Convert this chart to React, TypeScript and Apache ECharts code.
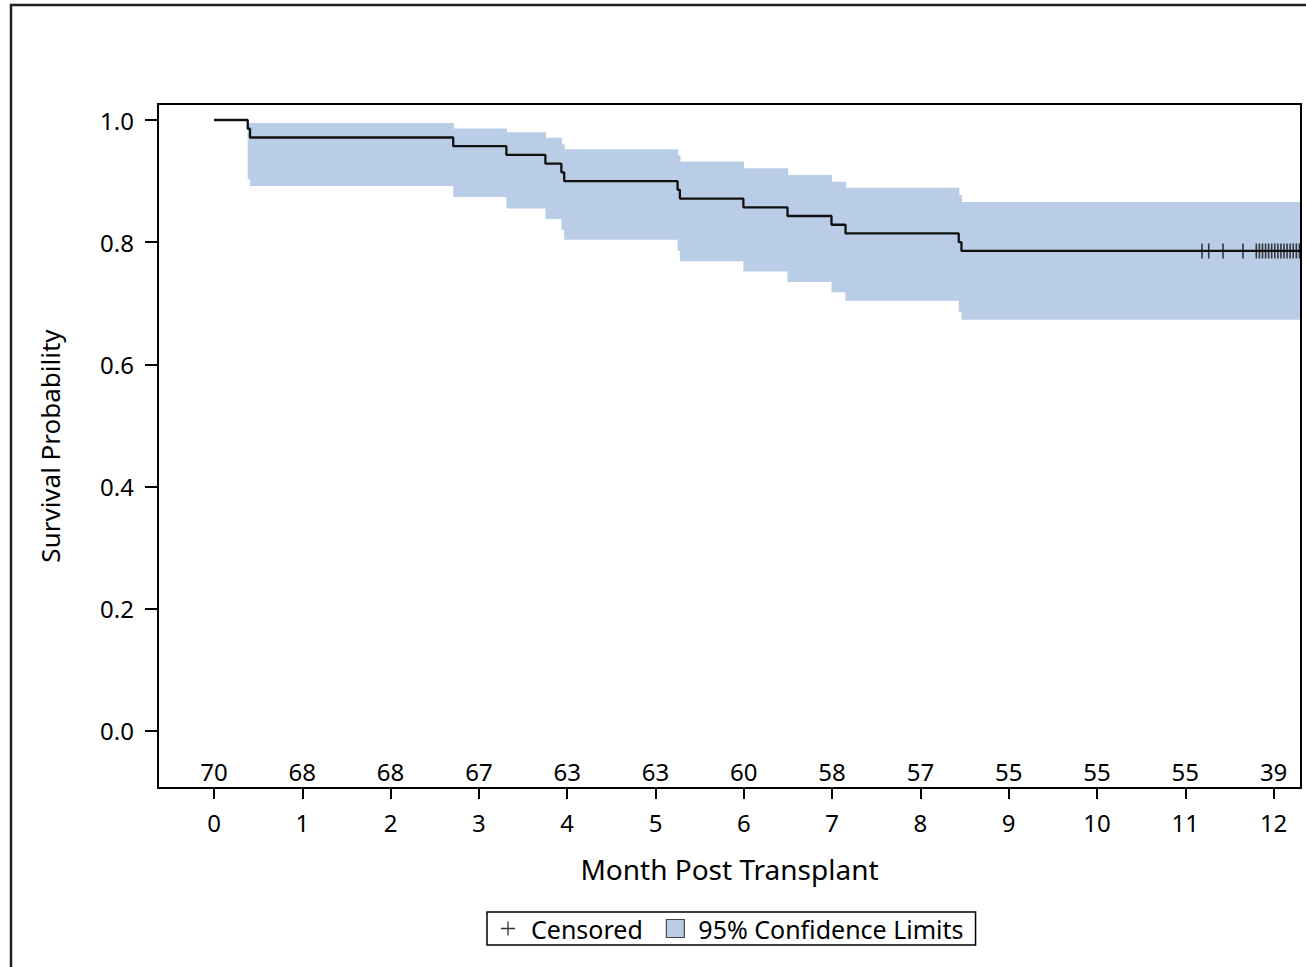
import React, { useEffect, useRef } from "react";
import * as echarts from "echarts";

// ---- Data ----
const monthTicks = [0, 1, 2, 3, 4, 5, 6, 7, 8, 9, 10, 11, 12];
const atRisk = [70, 68, 68, 67, 63, 63, 60, 58, 57, 55, 55, 55, 39];
const yTicks = [0, 0.2, 0.4, 0.6, 0.8, 1.0];

// Kaplan-Meier step curve (event times in months, survival after the event)
const eventTimes = [0, 0.382, 0.408, 2.709, 3.311, 3.753, 3.934, 3.966, 5.25, 5.276, 5.995, 6.495, 6.993, 7.152, 8.434, 8.465];
const survival = [1, 0.9857, 0.9714, 0.9571, 0.9429, 0.9286, 0.9143, 0.9, 0.8857, 0.8714, 0.8571, 0.8429, 0.8286, 0.8143, 0.8, 0.7857];
const curveEnd = 12.31;

// 95% confidence band (one interval per event from the first event onward)
const bandLower = [0.903, 0.892, 0.874, 0.855, 0.838, 0.82, 0.804, 0.786, 0.769, 0.752, 0.735, 0.718, 0.704, 0.686, 0.673];
const bandUpper = [0.995, 0.995, 0.986, 0.98, 0.971, 0.96, 0.952, 0.942, 0.932, 0.921, 0.91, 0.899, 0.889, 0.877, 0.866];

// Censored observation times
const censoredTimes = [11.189, 11.265, 11.427, 11.653, 11.804, 11.839, 11.874, 11.909, 11.943, 11.978, 12.013, 12.048, 12.083, 12.117, 12.152, 12.187, 12.222, 12.257, 12.292];

// ---- Layout / style ----
const FONT = "Noto Sans";
const BAND_COLOR = "#B9CDE6";
const GRID = { left: 158, top: 104, width: 1143, height: 684 };
const LEGEND_PLUS =
  "path://M0,0 M18,18 M8.35,2 L9.65,2 L9.65,8.35 L16,8.35 L16,9.65 L9.65,9.65 L9.65,16 L8.35,16 L8.35,9.65 L2,9.65 L2,8.35 L8.35,8.35 Z";

export default function App() {
  const ref = useRef<HTMLDivElement>(null);

  useEffect(() => {
    if (!ref.current) return;
    const chart = echarts.init(ref.current, undefined, { renderer: "svg" });

    const curveData: number[][] = eventTimes.map((t, i) => [t, survival[i]]);
    curveData.push([curveEnd, survival[survival.length - 1]]);

    const bandData: number[][] = bandLower.map((lo, i) => {
      const start = eventTimes[i + 1];
      const end = i + 2 < eventTimes.length ? eventTimes[i + 2] : curveEnd;
      return [start, end, lo, bandUpper[i]];
    });

    const lastS = survival[survival.length - 1];
    const censoredData = censoredTimes.map((t) => [t, lastS]);
    const atRiskData = monthTicks.map((m, i) => ({ value: [m, -0.067], n: atRisk[i] }));

    chart.setOption({
      animation: false,
      backgroundColor: "#fff",
      textStyle: { fontFamily: FONT },
      grid: { left: GRID.left, top: GRID.top, width: GRID.width, height: GRID.height, show: false },
      xAxis: {
        type: "value",
        min: -0.634,
        max: 12.31,
        name: "Month Post Transplant",
        nameLocation: "middle",
        nameGap: 67,
        nameTextStyle: { fontSize: 28, color: "#000", fontFamily: FONT },
        axisLine: { show: false, onZero: false },
        axisTick: { show: true, length: 11, lineStyle: { color: "#000", width: 2 }, customValues: monthTicks },
        axisLabel: { fontSize: 24, color: "#000", margin: 22, fontFamily: FONT, customValues: monthTicks },
        splitLine: { show: false },
      },
      yAxis: {
        type: "value",
        min: -0.0933,
        max: 1.0262,
        name: "Survival Probability",
        nameLocation: "middle",
        nameGap: 95,
        nameRotate: 90,
        nameTextStyle: { fontSize: 26, color: "#000", fontFamily: FONT },
        axisLine: { show: false, onZero: false },
        axisTick: { show: true, length: 13, lineStyle: { color: "#000", width: 2 }, customValues: yTicks },
        axisLabel: {
          fontSize: 24,
          color: "#000",
          margin: 24,
          fontFamily: FONT,
          customValues: yTicks,
          formatter: (v: number) => v.toFixed(1),
        },
        splitLine: { show: false },
      },
      legend: {
        top: 912,
        left: 487,
        orient: "horizontal",
        selectedMode: false,
        borderColor: "#000",
        borderWidth: 1.5,
        padding: [4, 12, 4, 12],
        itemGap: 23,
        itemWidth: 18,
        itemHeight: 18,
        textStyle: { fontSize: 25, color: "#000", fontFamily: FONT, padding: [0, 0, 0, 9] },
        data: [
          { name: "Censored", icon: LEGEND_PLUS, itemStyle: { color: "#000" } },
          {
            name: "95% Confidence Limits",
            icon: "rect",
            itemStyle: { color: BAND_COLOR, borderColor: "#444", borderWidth: 1.2 },
          },
        ],
      },
      series: [
        {
          name: "95% Confidence Limits",
          type: "custom",
          z: 1,
          itemStyle: { color: BAND_COLOR },
          encode: { x: [0, 1], y: [2, 3] },
          data: bandData,
          renderItem: (params: any, api: any) => {
            const p0 = api.coord([api.value(0), api.value(3)]);
            const p1 = api.coord([api.value(1), api.value(2)]);
            return {
              type: "rect",
              shape: { x: p0[0], y: p0[1], width: p1[0] - p0[0] + 0.6, height: p1[1] - p0[1] },
              style: { fill: BAND_COLOR },
            };
          },
        },
        {
          name: "Survival",
          type: "line",
          step: "end",
          z: 3,
          symbol: "none",
          lineStyle: { color: "#111", width: 2.3 },
          data: curveData,
        },
        {
          name: "Censored",
          type: "scatter",
          z: 4,
          symbol: "rect",
          symbolSize: [1.6, 15],
          itemStyle: { color: "#111" },
          data: censoredData,
        },
        {
          name: "At risk",
          type: "scatter",
          z: 4,
          symbolSize: 0,
          silent: true,
          itemStyle: { opacity: 1 },
          data: atRiskData,
          label: {
            show: true,
            position: "inside",
            fontSize: 24,
            color: "#000",
            opacity: 1,
            fontFamily: FONT,
            formatter: (p: any) => String(p.data.n),
          },
        },
      ],
      graphic: [
        {
          type: "rect",
          z: 100,
          silent: true,
          shape: { x: GRID.left, y: GRID.top, width: GRID.width, height: GRID.height },
          style: { fill: "none", stroke: "#000", lineWidth: 2 },
        },
        {
          type: "rect",
          z: 100,
          silent: true,
          shape: { x: 11, y: 5, width: 1400, height: 1100 },
          style: { fill: "none", stroke: "#222", lineWidth: 2.5 },
        },
      ],
    });

    return () => chart.dispose();
  }, []);

  return (
    <div
      ref={ref}
      style={{ position: "absolute", left: 0, top: 0, width: 1306, height: 967 }}
    />
  );
}
